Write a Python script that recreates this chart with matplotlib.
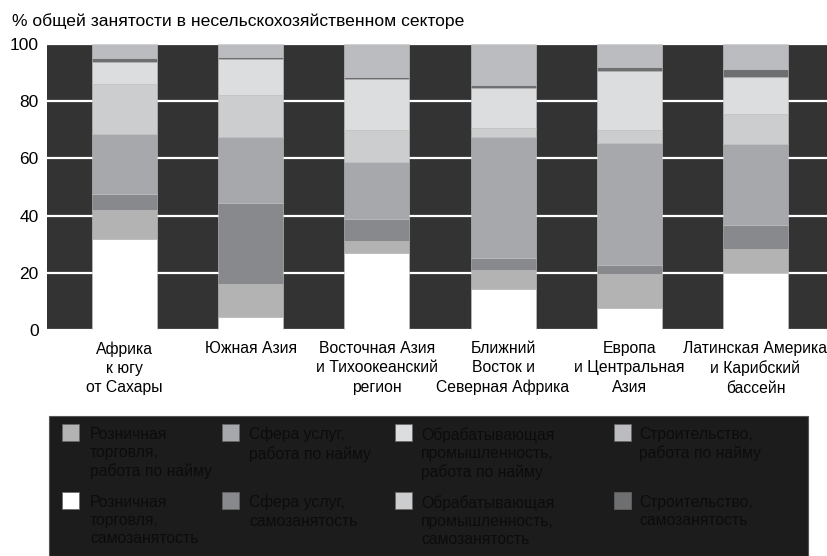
"""Структура несельскохозяйственной занятости по регионам"""
import matplotlib
matplotlib.use('Agg')
import matplotlib.pyplot as plt
from matplotlib.patches import Rectangle
import numpy as np

plt.rcParams['font.family'] = ['Liberation Sans Narrow', 'Liberation Sans', 'DejaVu Sans']

regions = ['Африка\nк югу\nот Сахары', 'Южная Азия',
           'Восточная Азия\nи Тихоокеанский\nрегион',
           'Ближний\nВосток и\nСеверная Африка',
           'Европа\nи Центральная\nАзия',
           'Латинская Америка\nи Карибский\nбассейн']

# доли (%) снизу вверх
retail_self = [31.8, 4.7, 26.8, 14.5, 7.6, 19.8]
retail_wage = [10.0, 11.4, 4.4, 6.5, 12.0, 8.6]
services_self = [5.8, 28.4, 7.7, 4.1, 3.0, 8.2]
services_wage = [20.9, 23.1, 19.8, 42.5, 42.9, 28.3]
manuf_self = [17.5, 14.6, 11.4, 3.1, 4.6, 10.6]
manuf_wage = [7.6, 12.4, 17.5, 14.0, 20.3, 13.1]
constr_self = [1.6, 0.7, 0.9, 1.0, 1.5, 2.5]
constr_wage = [4.8, 4.7, 11.5, 14.3, 8.1, 8.9]

series = [
    (retail_self, '#ffffff', 'Розничная\nторговля,\nсамозанятость'),
    (retail_wage, '#b3b3b3', 'Розничная\nторговля,\nработа по найму'),
    (services_self, '#88898c', 'Сфера услуг,\nсамозанятость'),
    (services_wage, '#a7a8ab', 'Сфера услуг,\nработа по найму'),
    (manuf_self, '#cccdcf', 'Обрабатывающая\nпромышленность,\nсамозанятость'),
    (manuf_wage, '#dcdddf', 'Обрабатывающая\nпромышленность,\nработа по найму'),
    (constr_self, '#6e6f71', 'Строительство,\nсамозанятость'),
    (constr_wage, '#bbbcc0', 'Строительство,\nработа по найму'),
]

W, H = 827, 556
fig = plt.figure(figsize=(W / 100, H / 100), dpi=100)
ax = fig.add_axes([47 / W, 1 - 330 / H, 1 - 47 / W, (330 - 44) / H])
ax.set_facecolor('#333333')

x = np.arange(len(regions))
bottom = np.zeros(len(regions))
for vals, color, label in series:
    ax.bar(x, vals, 0.515, bottom=bottom, color=color, edgecolor='#c8c8c8',
           linewidth=0.4, zorder=3)
    bottom += np.array(vals)

ax.set_xlim(-0.614, 5.567)
ax.set_ylim(0, 100)
ax.set_yticks([0, 20, 40, 60, 80, 100])
ax.yaxis.grid(True, color='white', linewidth=1.6, zorder=1)
ax.set_xticks(x)
ax.set_xticklabels(regions, fontsize=11.3, linespacing=1.35)
ax.tick_params(axis='x', length=0, pad=8)
ax.tick_params(axis='y', length=0, pad=6, labelsize=12.5)
for s in ax.spines.values():
    s.set_visible(False)

fig.text(12 / W, 1 - 21 / H, '% общей занятости в несельскохозяйственном секторе',
         fontsize=12.6, va='center', ha='left')

# === легенда (вручную, чтобы строки выровнялись) ===
fig.patches.append(Rectangle((49 / W, 0), (808 - 49) / W, (556 - 416) / H,
                             transform=fig.transFigure, facecolor='#1c1c1c',
                             edgecolor='#555555', linewidth=0.8, zorder=0))
order = [1, 3, 5, 7, 0, 2, 4, 6]
marker_x = [62, 222, 395, 614]
text_x = [90, 249, 421, 639]
row_y = [424, 492]
for k, idx in enumerate(order):
    col, row = k % 4, k // 4
    _, color, label = series[idx]
    fig.patches.append(Rectangle((marker_x[col] / W, 1 - (row_y[row] + 17) / H),
                                 17 / W, 17 / H, transform=fig.transFigure,
                                 facecolor=color, edgecolor='#666666', linewidth=0.5))
    fig.text(text_x[col] / W, 1 - (row_y[row] + 3) / H, label, fontsize=11.3,
             color='#0c0c0c', va='top', ha='left', linespacing=1.25)

plt.savefig('out.png', dpi=100)
